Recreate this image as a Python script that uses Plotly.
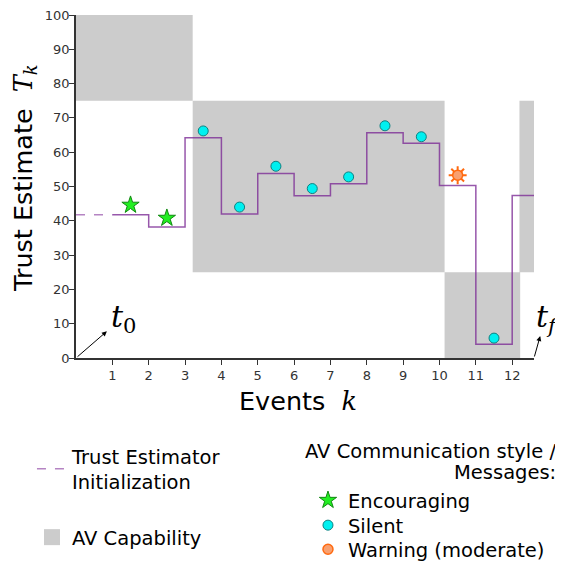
import plotly.graph_objects as go

# ---- data ----
step_x = [1, 2, 3, 4, 5, 6, 7, 8, 9, 10, 11, 12, 12.6]
trust = [41.8, 38.2, 64.2, 42.0, 53.8, 47.3, 50.8, 65.7, 62.6, 50.3, 4.0, 47.4]
init_x = [0, 1]
init_y = [41.8, 41.8]

enc_x = [1.5, 2.5]
enc_y = [44.6, 40.8]
silent_x = [3.5, 4.5, 5.5, 6.5, 7.5, 8.5, 9.5, 11.5]
silent_y = [66.2, 44.0, 55.9, 49.4, 52.8, 67.7, 64.5, 5.8]
warn_x = [10.5]
warn_y = [53.3]

cap_x0 = [0, 3.21, 10.14, 12.2]
cap_x1 = [3.21, 10.14, 12.22, 12.6]
cap_y0 = [75, 25, 0, 25]
cap_y1 = [100, 75, 25, 75]

x_ticks = list(range(1, 13))
y_ticks = list(range(0, 101, 10))

LINE = "rgba(125,45,150,0.8)"
SERIF = "DejaVu Serif"
LFONT = 19.5

fig = go.Figure()

# capability regions
cx, cy = [], []
for a, b, c, d in zip(cap_x0, cap_x1, cap_y0, cap_y1):
    cx += [a, b, b, a, a, None]
    cy += [c, c, d, d, c, None]
fig.add_trace(go.Scatter(x=cx, y=cy, mode="lines", fill="toself", fillcolor="#cccccc",
                         line=dict(width=0, color="#cccccc"), showlegend=False, hoverinfo="skip"))

# init dashed
fig.add_trace(go.Scatter(x=init_x, y=init_y, mode="lines",
                         line=dict(color="rgba(150,80,170,0.7)", width=1.5, dash="dash"),
                         name="Trust Estimator<br>Initialization", legend="legend"))
# legend entry for capability
fig.add_trace(go.Scatter(x=[None], y=[None], mode="markers", name="AV Capability",
                         legend="legend2",
                         marker=dict(symbol="square", size=22, color="#cccccc",
                                     line=dict(width=0))))

# step line
fig.add_trace(go.Scatter(x=step_x, y=trust + [trust[-1]], mode="lines", line_shape="hv",
                         line=dict(color=LINE, width=1.5), showlegend=False))

fig.add_trace(go.Scatter(x=enc_x, y=enc_y, mode="markers", name="Encouraging", legend="legend3",
                         marker=dict(symbol="star", size=13, color="#22ee22",
                                     line=dict(color="#118811", width=1))))
fig.add_trace(go.Scatter(x=silent_x, y=silent_y, mode="markers", name="Silent", legend="legend4",
                         marker=dict(symbol="circle", size=10, color="#00f0f0",
                                     line=dict(color="#108080", width=1))))
fig.add_trace(go.Scatter(x=warn_x, y=warn_y, mode="markers", showlegend=False, legend="legend5",
                         legendgroup="warn",
                         marker=dict(symbol="asterisk-open", size=15, color="#ff6a10",
                                     line=dict(color="#ff6a10", width=2))))
fig.add_trace(go.Scatter(x=warn_x, y=warn_y, mode="markers", name="Warning (moderate)", legend="legend5",
                         legendgroup="warn",
                         marker=dict(symbol="circle", size=10, color="#f8a070",
                                     line=dict(color="#ff6a10", width=1.5))))

# annotations t0 / tf
fig.add_annotation(x=0.85, y=7.8, ax=0, ay=0, axref="x", ayref="y", xref="x", yref="y",
                   text="", showarrow=True, arrowhead=2, arrowsize=1, arrowwidth=1, arrowcolor="black")
fig.add_annotation(x=1.3, y=11.5, xref="x", yref="y", text="<i>t</i><sub>0</sub>", showarrow=False,
                   font=dict(family=SERIF, size=30, color="black"))
fig.add_annotation(x=12.77, y=6.4, ax=12.6, ay=0, axref="x", ayref="y", xref="x", yref="y",
                   text="", showarrow=True, arrowhead=2, arrowsize=1, arrowwidth=1, arrowcolor="black")
fig.add_annotation(x=12.6, y=11.5, xref="x", yref="y", xshift=13, text="<i>t</i><sub><i>f</i></sub>",
                   showarrow=False, font=dict(family=SERIF, size=30, color="black"))

# axis titles
fig.add_annotation(x=-0.1114, y=0.525, xref="paper", yref="paper", textangle=-90, showarrow=False,
                   xanchor="center", yanchor="middle",
                   text="Trust Estimate  <span style='font-family:DejaVu Serif'><i>T</i><sub><i>k</i></sub></span>",
                   font=dict(family="DejaVu Sans", size=25.5, color="black"))
fig.add_annotation(x=0.485, y=-0.125, xref="paper", yref="paper", showarrow=False,
                   xanchor="center", yanchor="middle",
                   text="Events  <span style='font-family:DejaVu Serif'><i>k</i></span>",
                   font=dict(family="DejaVu Sans", size=25.5, color="black"))

# legend title for messages
fig.add_annotation(x=1.052, y=-0.274, xref="paper", yref="paper", xanchor="right", yanchor="middle",
                   showarrow=False, text="AV Communication style /",
                   font=dict(family="DejaVu Sans", size=19.5, color="black"))
fig.add_annotation(x=1.052, y=-0.333, xref="paper", yref="paper", xanchor="right", yanchor="middle",
                   showarrow=False, text="Messages:",
                   font=dict(family="DejaVu Sans", size=19.5, color="black"))

leg = dict(xref="container", yref="container", xanchor="left", yanchor="top",
           font=dict(size=LFONT, color="black"), bgcolor="rgba(0,0,0,0)")

# page body has an 8px margin, so the figure is 8px smaller and margins shifted
fig.update_layout(
    width=555, height=553,
    margin=dict(l=68, r=29, t=7, b=203, autoexpand=False),
    paper_bgcolor="white", plot_bgcolor="white",
    font=dict(family="DejaVu Sans", color="#333333"),
    xaxis=dict(range=[0, 12.6], tickvals=x_ticks, ticks="outside", ticklen=5, tickcolor="#333",
               showline=True, linecolor="#333", linewidth=1.5, showgrid=False, zeroline=False,
               tickfont=dict(size=13, color="#333"), automargin=False, ticklabeloverflow="allow"),
    yaxis=dict(range=[0, 100], tickvals=y_ticks, ticks="outside", ticklen=5, tickcolor="#333",
               showline=True, linecolor="#333", linewidth=1.5, showgrid=False, zeroline=False,
               tickfont=dict(size=13, color="#333"), automargin=False, ticklabeloverflow="allow",
               ticklabelstandoff=-3),
    legend=dict(x=0.0432, y=0.2242, **leg),
    legend2=dict(x=0.0432, y=0.0778, **leg),
    legend3=dict(x=0.5405, y=0.1447, **leg),
    legend4=dict(x=0.5405, y=0.0995, **leg),
    legend5=dict(x=0.5405, y=0.0560, **leg),
    showlegend=True,
)

fig.write_html("out.html")
